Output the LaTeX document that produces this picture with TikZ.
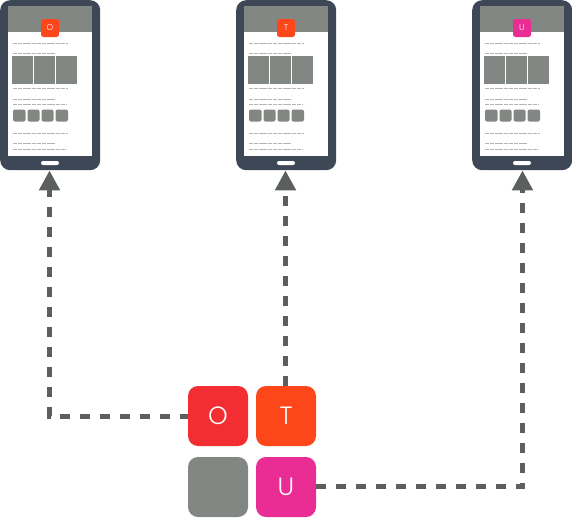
\documentclass[tikz,border=0pt]{standalone}
\usepackage{fontspec}
\setmainfont{Poppins}[UprightFont=* Light]
\usetikzlibrary{arrows.meta}
\definecolor{cO}{HTML}{F22E33}
\definecolor{cT}{HTML}{FD4619}
\definecolor{cU}{HTML}{EA2C95}
\definecolor{cG}{HTML}{838784}
\definecolor{cP}{HTML}{3E4756}
\definecolor{cA}{HTML}{5B605D}
\definecolor{cL}{HTML}{B4B7B6}
\tikzset{
  x=1pt,y=-1pt,
  tile/.style={rounded corners=10pt,minimum width=60pt,minimum height=60pt,inner sep=0pt,text=white,font=\fontsize{25}{25}\selectfont},
  phonebody/.style={fill=cP,rounded corners=10pt,minimum width=100pt,minimum height=170pt,inner sep=0pt},
  minitile/.style={rounded corners=2.5pt,minimum width=18pt,minimum height=18pt,inner sep=0pt,text=white,font=\fontsize{8.5}{8.5}\selectfont},
  conn/.style={draw=cA,line width=5pt,miter limit=10,dash pattern=on 10pt off 10pt,-{Triangle[length=20pt,width=20pt,fill=cA]}},
  tinyline/.style={draw=cL,line width=0.9pt,dash pattern=on 4pt off 0.8pt},
  photo/.style={fill=cG},
  thumb/.style={fill=cG,rounded corners=2pt}
}
\newcommand{\phonedraw}[4]{%
  \node[phonebody,anchor=north west] (#1) at (#2,0) {};
  \begin{scope}[shift={(#2,0)}]
    \fill[white] (8,6) rectangle (92,156);
    \fill[cG] (8,6) rectangle (92,32);
    \node[minitile,fill=#3] (#1icon) at (50,28) {#4};
    \fill[white,rounded corners=2pt] (41,161) rectangle (59,165);
    \draw[tinyline] (13,43) -- (68,43);
    \draw[tinyline] (13,53) -- (55,53);
    \fill[photo] (12,56) rectangle (33,84);
    \fill[photo] (34,56) rectangle (54.5,84);
    \fill[photo] (56,56) rectangle (76.5,84);
    \draw[tinyline] (13,88.5) -- (68,88.5);
    \draw[tinyline] (13,99) -- (55,99);
    \draw[tinyline] (13,104) -- (67,104);
    \fill[thumb] (13,109.5) rectangle (25.5,121.5);
    \fill[thumb] (27.5,109.5) rectangle (39.5,121.5);
    \fill[thumb] (41.5,109.5) rectangle (53.5,121.5);
    \fill[thumb] (55.5,109.5) rectangle (68,121.5);
    \draw[tinyline] (13,133) -- (68,133);
    \draw[tinyline] (13,143.5) -- (55,143.5);
    \draw[tinyline] (13,149) -- (67,149);
  \end{scope}%
}
\begin{document}
\begin{tikzpicture}
\useasboundingbox (0,0) rectangle (572,517);
\phonedraw{pO}{0}{cT}{O}
\phonedraw{pT}{236}{cT}{T}
\phonedraw{pU}{472}{cU}{U}
\node[tile,fill=cO] (tO) at (218,416) {O};
\node[tile,fill=cT] (tT) at (286,416) {T};
\node[tile,fill=cG] (tG) at (218,487) {};
\node[tile,fill=cU] (tU) at (286,487) {U};
\coordinate (bendO) at (49.5,416.5);
\coordinate (bendU) at (522.5,486.5);
\draw[conn,dash phase=2pt] ([yshift=-0.5pt]tO.west) -- (bendO) -- (bendO |- pO.south);
\draw[conn] ([xshift=-0.5pt]tT.north) -- ([xshift=-0.5pt]tT.north |- pT.south);
\draw[conn] ([yshift=0.5pt]tU.east) -- (bendU) -- (bendU |- pU.south);
\end{tikzpicture}
\end{document}
